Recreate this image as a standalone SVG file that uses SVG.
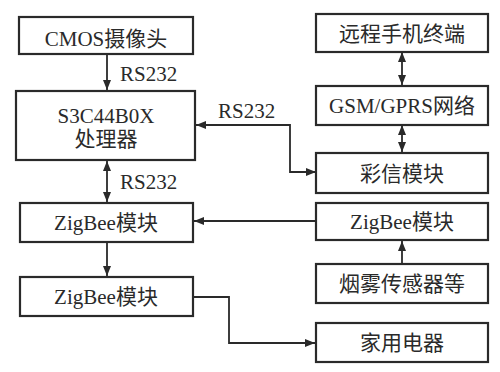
<svg xmlns="http://www.w3.org/2000/svg" width="500" height="372" viewBox="0 0 500 372">
<style>
.box{fill:#fff;stroke:#2a2a2a;stroke-width:2.2}
.t{font-family:"Liberation Serif","Noto Sans CJK SC",serif;font-size:21px;fill:#2a2a2a;text-anchor:middle}
.l{font-family:"Liberation Serif","Noto Sans CJK SC",serif;font-size:21px;fill:#2a2a2a}
.c{fill:none;stroke:#2a2a2a;stroke-width:1.8}
</style>
<defs>
<marker id="a" viewBox="0 0 10 8" refX="10" refY="4" markerWidth="10" markerHeight="8" markerUnits="userSpaceOnUse" orient="auto-start-reverse">
<path d="M0,0 L10,4 L0,8 z" fill="#2a2a2a"/>
</marker>
</defs>
<rect width="500" height="372" fill="#fff"/>
<g id="connectors">
<path class="c" d="M107,54 V90" marker-end="url(#a)"/>
<path class="c" d="M107,161 V202" marker-start="url(#a)" marker-end="url(#a)"/>
<path class="c" d="M107,242 V276" marker-end="url(#a)"/>
<path class="c" d="M316,172 H290 V125 H196" marker-start="url(#a)" marker-end="url(#a)"/>
<path class="c" d="M316,221 H194" marker-end="url(#a)"/>
<path class="c" d="M193,297 H229 V343 H315" marker-end="url(#a)"/>
<path class="c" d="M402,52 V85" marker-start="url(#a)" marker-end="url(#a)"/>
<path class="c" d="M402,125 V152" marker-start="url(#a)" marker-end="url(#a)"/>
<path class="c" d="M402,264 V241" marker-end="url(#a)"/>
<text class="l" x="120" y="81">RS232</text>
<text class="l" x="120" y="189">RS232</text>
<text class="l" x="218" y="118">RS232</text>
</g>
<g id="cmos"><rect class="box" x="19" y="17" width="174" height="37"/><text class="t" x="106" y="46">CMOS摄像头</text></g>
<g id="s3c"><rect class="box" x="16" y="91" width="179" height="69"/><text class="t" x="106" y="123">S3C44B0X</text><text class="t" x="106" y="146">处理器</text></g>
<g id="zigbee1"><rect class="box" x="20" y="203" width="173" height="39"/><text class="t" x="106" y="230">ZigBee模块</text></g>
<g id="zigbee2"><rect class="box" x="20" y="277" width="173" height="39"/><text class="t" x="106" y="304">ZigBee模块</text></g>
<g id="remote"><rect class="box" x="316" y="14" width="172" height="38"/><text class="t" x="402" y="41">远程手机终端</text></g>
<g id="gsm"><rect class="box" x="316" y="86" width="172" height="39"/><text class="t" x="402" y="113">GSM/GPRS网络</text></g>
<g id="mms"><rect class="box" x="316" y="153" width="172" height="40"/><text class="t" x="402" y="181">彩信模块</text></g>
<g id="zigbee3"><rect class="box" x="316" y="203" width="172" height="37"/><text class="t" x="402" y="229">ZigBee模块</text></g>
<g id="smoke"><rect class="box" x="316" y="264" width="172" height="39"/><text class="t" x="402" y="291">烟雾传感器等</text></g>
<g id="appliance"><rect class="box" x="316" y="323" width="172" height="39"/><text class="t" x="402" y="350">家用电器</text></g>
</svg>
